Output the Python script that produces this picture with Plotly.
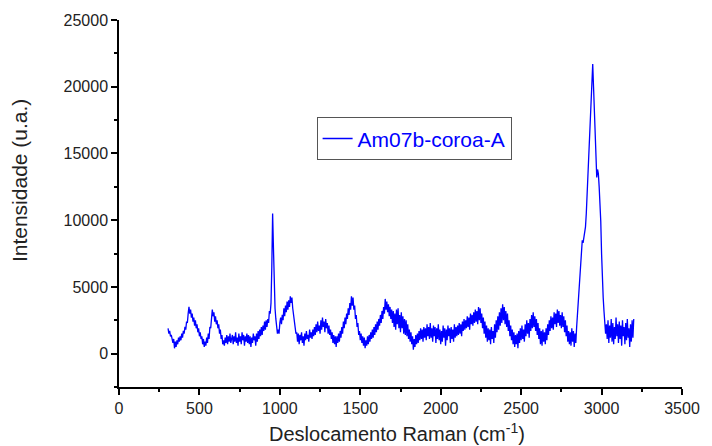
import plotly.graph_objects as go

# Raman shift (cm^-1), 5 cm^-1 steps from 305 to 3200
raman_start = 305
raman_step = 5
intensity = [
    1900, 1500, 1700, 1300, 1400, 1000, 800, 1100, 400, 900,
    500, 1000, 700, 1200, 900, 1300, 1000, 1500, 1200, 1700,
    1500, 2000, 1800, 2400, 2300, 3000, 3500, 3000, 3300, 2700,
    3000, 2400, 2700, 2100, 2500, 1900, 2200, 1600, 1900, 1300,
    1600, 1100, 1300, 700, 1100, 500, 900, 600, 1200, 800,
    1500, 1100, 2000, 1900, 2800, 3300, 2800, 3100, 2400, 2800,
    2200, 2500, 1900, 2200, 1500, 1800, 1100, 1400, 700, 1000,
    600, 1200, 800, 1400, 700, 1300, 900, 1500, 800, 1200,
    1400, 700, 1300, 900, 1600, 800, 1200, 600, 1500, 900,
    1300, 700, 1600, 1000, 1400, 600, 1300, 900, 1500, 800,
    1400, 700, 1300, 500, 1200, 800, 1500, 1000, 1300, 600,
    1500, 900, 1700, 1100, 1800, 1300, 2000, 1400, 2100, 1700,
    2400, 1800, 2500, 2000, 2600, 2300, 3200, 3000, 3800, 6500,
    10500, 8000, 4500, 3400, 2600, 2000, 1500, 1800, 1500, 2300,
    2700, 2200, 2900, 2500, 3400, 2800, 3600, 3100, 3900, 3300,
    4000, 3500, 4300, 3800, 4200, 3400, 3000, 2300, 2000, 1500,
    1600, 900, 1500, 700, 1400, 1000, 1600, 800, 1300, 600,
    1500, 1000, 1700, 1100, 1400, 900, 1800, 1200, 1600, 1100,
    1800, 1300, 2000, 1400, 2200, 1600, 2400, 1700, 2100, 1500,
    2500, 1800, 2700, 2000, 2400, 1600, 2600, 1900, 2300, 1500,
    2100, 1400, 1800, 1100, 1600, 800, 1400, 700, 1300, 500,
    1300, 800, 1500, 900, 1700, 1200, 2000, 1500, 2400, 1900,
    2700, 2200, 3000, 2600, 3400, 2900, 3800, 3300, 4300, 3600,
    4200, 3300, 3600, 2600, 2900, 2000, 2300, 1400, 1700, 1000,
    1500, 800, 1300, 600, 1200, 400, 1000, 600, 1300, 700,
    1400, 900, 1600, 1100, 1800, 1200, 2000, 1400, 2200, 1600,
    2400, 1800, 2600, 2100, 2900, 2300, 3200, 2600, 3500, 3000,
    4100, 3300, 3900, 3100, 3700, 2800, 3500, 2600, 3300, 2300,
    3200, 2000, 3000, 1800, 3300, 2200, 3400, 1900, 2900, 1600,
    3100, 1900, 2800, 1500, 2600, 1400, 2500, 1300, 2200, 1100,
    1800, 900, 1600, 700, 1300, 300, 1100, 500, 1400, 700,
    1500, 800, 1700, 1000, 1900, 1100, 1800, 900, 2000, 1200,
    1900, 1000, 2200, 1300, 2000, 1100, 2300, 1200, 1900, 900,
    2100, 1300, 2000, 800, 1900, 1100, 2200, 1000, 1800, 700,
    1700, 900, 2100, 1200, 1900, 600, 1800, 1000, 2100, 1300,
    1900, 800, 2000, 1100, 1800, 900, 2200, 1200, 2000, 1300,
    2100, 1400, 2300, 1500, 2200, 1300, 2400, 1700, 2600, 1800,
    2500, 1900, 2800, 2000, 2700, 1800, 3000, 2200, 2900, 2100,
    3100, 2300, 3300, 2400, 3200, 2200, 3500, 2500, 3400, 2300,
    3000, 1900, 2700, 1500, 2400, 1200, 2100, 900, 1900, 1000,
    1800, 700, 2000, 1100, 1700, 800, 2200, 1200, 2500, 1600,
    2800, 1800, 3100, 2100, 3400, 2300, 3700, 2500, 3500, 2200,
    3200, 2000, 3000, 1700, 2500, 1300, 2100, 1000, 1800, 700,
    1600, 500, 1400, 700, 1500, 400, 1700, 800, 1900, 1000,
    2100, 1100, 1800, 900, 2200, 1300, 2500, 1500, 2300, 1200,
    2600, 1700, 2900, 1900, 3100, 2000, 2800, 1700, 2600, 1400,
    2300, 1100, 1900, 700, 1700, 600, 1800, 900, 1600, 700,
    1900, 1000, 2200, 1400, 2500, 1700, 2800, 1900, 2700, 1800,
    3100, 2200, 3000, 2000, 3300, 2300, 3200, 2100, 2900, 1900,
    3100, 2000, 2800, 1600, 2500, 1300, 2100, 900, 1700, 700,
    1600, 600, 1900, 900, 1700, 500, 1500, 800, 2000, 2900,
    3900, 4800, 6000, 6900, 7800, 8500, 8300, 8700, 9000, 9500,
    10500, 12000, 13500, 15000, 16500, 18000, 19300, 20500, 21700, 20000,
    18300, 16500, 14600, 13200, 13800, 13500, 12500, 11500, 9900, 7500,
    5200, 4200, 3200, 2300, 1500, 2200, 1100, 2500, 800, 2100,
    1200, 2600, 900, 2300, 700, 2000, 1100, 2700, 1300, 2200,
    800, 2400, 1100, 2100, 600, 2500, 1300, 2000, 700, 2300,
    1000, 2600, 1200, 1900, 500, 2200, 900, 2500, 1200, 2600,
]
raman_shift = [raman_start + raman_step * i for i in range(len(intensity))]

series_name = "Am07b-coroa-A"
x_title = "Deslocamento Raman (cm<sup>-1</sup>)"
y_title = "Intensidade (u.a.)"

font_family = "Liberation Sans, Arial, sans-serif"
text_color = "#222222"

fig = go.Figure()
fig.add_trace(go.Scatter(
    x=raman_shift, y=intensity, mode="lines", name=series_name,
    line=dict(color="#0000FF", width=1.3),
))

fig.update_layout(
    width=712, height=446,
    margin=dict(l=119, r=21, t=15, b=59),
    paper_bgcolor="white", plot_bgcolor="white",
    font=dict(family=font_family, color=text_color),
    showlegend=True,
    legend=dict(
        x=0.351, y=0.7347, xanchor="left", yanchor="top",
        bordercolor="#555555", borderwidth=1,
        font=dict(size=21, color="#0000FF", family=font_family),
        bgcolor="white",
    ),
    annotations=[
        dict(text=x_title, xref="paper", yref="paper", x=0.494, y=-0.1246,
             xanchor="center", yanchor="middle", showarrow=False,
             font=dict(size=20, color=text_color, family=font_family)),
        dict(text=y_title, xref="paper", yref="paper", x=-0.177, y=0.562,
             xanchor="center", yanchor="middle", showarrow=False, textangle=-90,
             font=dict(size=21, color=text_color, family=font_family)),
    ],
)

fig.update_xaxes(
    range=[0, 3500], dtick=500, tick0=0,
    showline=True, linecolor="black", linewidth=1.5,
    ticks="outside", ticklen=6, tickwidth=1.5, tickcolor="black",
    minor=dict(ticks="outside", ticklen=3, dtick=250, tickwidth=1.5, tickcolor="black"),
    showgrid=False, zeroline=False,
    tickfont=dict(size=16, color=text_color),
)
fig.update_yaxes(
    range=[-2500, 25000], dtick=5000, tick0=0, tickformat="d",
    showline=True, linecolor="black", linewidth=1.5,
    ticks="outside", ticklen=6, tickwidth=1.5, tickcolor="black",
    minor=dict(ticks="outside", ticklen=3, dtick=2500, tickwidth=1.5, tickcolor="black"),
    showgrid=False, zeroline=False,
    tickfont=dict(size=16, color=text_color),
)

fig.write_html("out.html")
